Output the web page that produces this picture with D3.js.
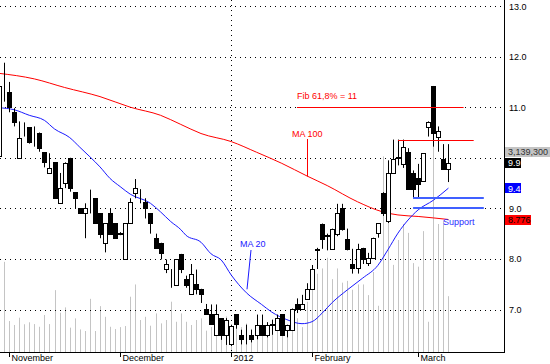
<!DOCTYPE html>
<html>
<head>
<meta charset="utf-8">
<script src="https://cdn.jsdelivr.net/npm/d3@7"></script>
<style>
html, body { margin: 0; padding: 0; background: #fff; }
svg text { font-family: "Liberation Sans", Arial, sans-serif; font-size: 9px; }
</style>
</head>
<body>
<div id="chart"></div>
<script>
// daily candles, first one is cut by the left edge
var opens  = [10.03,11.49,11.31,10.91,10.00,10.62,10.60,10.43,10.50,10.11, 9.70, 9.91, 9.10, 9.50,10.00, 9.32, 9.00, 8.90, 9.12, 9.20,
               8.90, 8.32, 8.90, 8.71, 8.50, 7.99, 8.71, 9.30, 9.20, 9.12, 8.90, 8.41, 8.32, 7.81, 7.60, 7.49, 8.10, 7.60, 7.31, 7.50,
               7.41, 7.02, 6.91, 6.50, 6.83, 6.50, 6.31, 6.91, 6.50, 6.60, 6.50, 6.50, 6.70, 6.50, 6.70, 6.60, 6.91, 6.60, 6.60, 7.11,
               7.02, 7.21, 7.41, 8.17, 8.70, 8.47, 8.20, 8.50, 9.00, 8.40, 7.90, 7.82, 8.22, 7.92, 8.02, 8.51, 9.30, 8.75, 9.70, 10.00,
               9.88,10.12, 9.70, 9.60, 9.55,10.60,11.42,10.42, 9.98, 9.78];
var highs  = [11.45,11.88,11.50,10.98,10.72,10.70,10.60,10.62,10.50,10.11,10.09, 9.91, 9.70, 9.91,10.00, 9.32, 9.00, 9.10, 9.37, 9.20,
               8.90, 8.71, 9.00, 8.71, 8.53, 8.71, 9.20, 9.58, 9.38, 9.20, 8.90, 8.50, 8.32, 7.99, 7.80, 7.99, 8.10, 7.67, 7.90, 7.79,
               7.41, 7.11, 7.10, 7.10, 6.83, 6.83, 6.70, 6.91, 6.60, 6.70, 6.60, 6.90, 6.90, 6.75, 6.80, 6.90, 6.91, 6.70, 7.02, 7.22,
               7.29, 7.52, 7.88, 8.22, 8.70, 8.50, 8.60, 9.09, 9.09, 8.60, 8.20, 8.30, 8.22, 8.12, 8.42, 8.71, 9.32, 9.95,10.36,10.36,
              10.36,10.19, 9.75, 9.88,10.09,10.72,11.42,10.62,10.27,10.27];
var lows   = [10.00,11.11,10.90,10.62,10.00,10.42,10.28,10.22,10.12, 9.81, 9.70, 9.20, 9.10, 9.40, 9.33, 9.00, 8.90, 8.41, 8.90, 8.71,
               8.41, 8.13, 8.50, 8.41, 8.47, 7.99, 8.71, 9.20, 9.10, 8.80, 8.50, 8.22, 7.99, 7.72, 7.43, 7.49, 7.72, 7.43, 7.31, 7.30,
               7.13, 6.91, 6.71, 6.50, 6.40, 6.30, 6.28, 6.62, 6.31, 6.31, 6.35, 6.41, 6.50, 6.45, 6.50, 6.60, 6.50, 6.45, 6.60, 6.93,
               7.00, 7.20, 7.41, 7.80, 8.20, 8.17, 8.20, 8.45, 8.56, 8.17, 7.71, 7.71, 7.90, 7.86, 8.02, 8.42, 8.85, 8.71, 9.70, 9.85,
               9.80, 9.39, 9.20, 9.20, 9.55,10.42,10.22,10.12, 9.78, 9.52];
var closes = [11.41,11.50,11.00,10.70,10.40,10.63,10.31,10.43,10.20, 9.91, 9.80, 9.20, 9.40, 9.90, 9.40, 9.20, 8.90, 9.00, 9.13, 8.71,
               8.50, 8.71, 8.50, 8.41, 8.51, 8.71, 9.12, 9.40, 9.21, 9.00, 8.71, 8.22, 8.12, 7.90, 7.61, 7.99, 7.80, 7.49, 7.70, 7.40,
               7.31, 6.91, 6.71, 6.91, 6.50, 6.80, 6.67, 6.71, 6.41, 6.59, 6.41, 6.70, 6.50, 6.70, 6.71, 6.83, 6.50, 6.70, 7.02, 7.02,
               7.11, 7.41, 7.80, 8.20, 8.40, 8.45, 8.60, 8.90, 8.60, 8.20, 7.82, 8.20, 8.00, 8.02, 8.42, 8.71, 8.91, 9.70, 9.98,10.02,
              10.21, 9.39, 9.39, 9.49,10.09,10.71,10.49,10.52, 9.78, 9.90];
// volume in millions of shares
var volumes = [1.50,5.07,1.74,1.52,1.93,1.56,1.67,1.57,1.42,2.08,1.57,3.48,2.21,2.51,1.37,1.89,1.27,1.18,2.99,1.18,
               2.58,1.98,1.42,1.29,1.40,1.46,3.11,3.80,1.80,1.98,1.48,2.17,1.61,1.80,2.83,1.70,2.17,1.70,1.52,1.80,
               1.89,1.20,1.40,1.60,1.40,2.00,1.50,1.70,1.40,1.60,1.30,1.40,1.60,1.10,1.70,1.40,2.00,1.00,1.50,1.90,
               1.40,2.83,4.30,4.40,4.70,5.30,4.10,4.70,3.90,4.00,3.50,3.80,3.80,3.20,4.50,2.60,11.0,7.60,4.90,6.30,
               7.20,6.70,5.00,4.80,6.80,1.70,12.2,7.20,7.40,3.14];

var monthDays = [2, 24, 46, 62, 83];
var monthLabels = ["November", "December", "2012", "February", "March"];
var yearDay = 46;
var priceTicks = [7, 8, 9, 10, 11, 12, 13];

var ma20Days = [0, 3, 6, 9, 11, 14, 16, 18, 20, 22, 24, 26, 30, 32, 34, 36, 37, 40, 42, 44, 46, 49, 52, 54, 57, 60, 62, 64, 66, 69, 72, 75, 77, 79, 81, 83, 86, 89];
var ma20Vals = [10.99, 10.95, 10.84, 10.74, 10.57, 10.40, 10.21, 10.02, 9.82, 9.59, 9.43, 9.28, 9.10, 8.93, 8.74, 8.58, 8.47, 8.33, 8.10, 7.98, 7.68, 7.33, 7.10, 6.95, 6.80, 6.72, 6.76, 6.93, 7.14, 7.39, 7.62, 7.87, 8.18, 8.51, 8.77, 8.97, 9.16, 9.40];
var ma100Days = [0, 7, 13, 20, 26, 32, 36, 40, 46, 51, 56, 61, 65, 71, 76, 79, 83, 89];
var ma100Vals = [11.67, 11.56, 11.39, 11.21, 11.00, 10.84, 10.66, 10.48, 10.32, 10.11, 9.89, 9.64, 9.45, 9.13, 8.93, 8.87, 8.84, 8.78];
var ma100Last = 8.776;

var lastVolumeText = "3,139,300";

var W = 550, H = 364, plotR = 504, plotB = 352;

var x = d3.scaleLinear().domain([0.2, 100]).range([0, plotR]);
var y = d3.scaleLinear().domain([6.16, 13.12]).range([plotB, 0]);
var yVol = d3.scaleLinear().domain([0, 19.8]).range([plotB, 0]);
var px = function(i) { return Math.round(x(i)) + 0.5; };

var svg = d3.select("#chart").append("svg")
    .attr("width", W).attr("height", H);

svg.append("clipPath").attr("id", "plot")
  .append("rect").attr("x", 0).attr("y", 0).attr("width", plotR).attr("height", plotB);

var plot = svg.append("g").attr("clip-path", "url(#plot)");

// volume
plot.selectAll(".vol")
    .data(volumes)
    .enter().append("line")
    .attr("x1", function(d, i) { return px(i); })
    .attr("x2", function(d, i) { return px(i); })
    .attr("y1", plotB)
    .attr("y2", function(d) { return yVol(d); })
    .style("stroke", "#c4c4c4")
    .style("stroke-width", 1);

// gridlines
plot.selectAll(".grid")
    .data(priceTicks)
    .enter().append("line")
    .attr("x1", 0).attr("x2", plotR)
    .attr("y1", function(d) { return Math.round(y(d)) + 0.5; })
    .attr("y2", function(d) { return Math.round(y(d)) + 0.5; })
    .style("stroke", "#000")
    .style("stroke-dasharray", "1,4");

plot.append("line")
    .attr("x1", px(yearDay)).attr("x2", px(yearDay))
    .attr("y1", 0).attr("y2", plotB)
    .style("stroke", "#000")
    .style("stroke-dasharray", "1,4");

// moving averages
var maLine = d3.line()
    .x(function(d) { return x(d[0]); })
    .y(function(d) { return y(d[1]); })
    .curve(d3.curveMonotoneX);

plot.append("path")
    .datum(d3.zip(ma100Days, ma100Vals))
    .attr("d", maLine)
    .style("fill", "none").style("stroke", "#ff0000").style("stroke-width", 1);

plot.append("path")
    .datum(d3.zip(ma20Days, ma20Vals))
    .attr("d", maLine)
    .style("fill", "none").style("stroke", "#1a1aff").style("stroke-width", 1);

// candles
var days = d3.range(closes.length);

plot.selectAll(".wick")
    .data(days)
    .enter().append("line")
    .attr("x1", function(i) { return px(i); })
    .attr("x2", function(i) { return px(i); })
    .attr("y1", function(i) { return y(highs[i]); })
    .attr("y2", function(i) { return y(lows[i]); })
    .style("stroke", "#000")
    .style("stroke-width", 1);

plot.selectAll(".body")
    .data(days)
    .enter().append("rect")
    .attr("x", function(i) { return Math.round(x(i)) - 1.5; })
    .attr("width", 4)
    .attr("y", function(i) { return Math.round(y(Math.max(opens[i], closes[i]))) + 0.5; })
    .attr("height", function(i) { return Math.max(0, Math.round(y(Math.min(opens[i], closes[i]))) - Math.round(y(Math.max(opens[i], closes[i])))); })
    .style("fill", function(i) { return closes[i] < opens[i] ? "#000" : "#fff"; })
    .style("stroke", "#000")
    .style("stroke-width", 1);

// annotations
var fibLevel = 11, fibFrom = 59, fibTo = 92;
var resLevel = 10.36, resFrom = 79, resTo = 94;
var supportLevels = [9.21, 9.0], supFrom = 82, supTo = 96;

svg.append("line")
    .attr("x1", x(fibFrom)).attr("x2", x(fibTo))
    .attr("y1", Math.round(y(fibLevel)) + 0.5).attr("y2", Math.round(y(fibLevel)) + 0.5)
    .style("stroke", "#ff0000");
svg.append("line")
    .attr("x1", x(resFrom)).attr("x2", x(resTo))
    .attr("y1", Math.round(y(resLevel)) + 0.5).attr("y2", Math.round(y(resLevel)) + 0.5)
    .style("stroke", "#ff0000");
svg.selectAll(".sup")
    .data(supportLevels)
    .enter().append("line")
    .attr("x1", x(supFrom)).attr("x2", x(supTo))
    .attr("y1", function(d) { return Math.round(y(d)); })
    .attr("y2", function(d) { return Math.round(y(d)); })
    .style("stroke", "#4060ff")
    .style("stroke-width", 2);

svg.append("text").attr("x", x(59)).attr("y", y(fibLevel) - 8)
    .style("fill", "#ff0000").text("Fib 61,8% = 11");

svg.append("text").attr("x", 292).attr("y", 137)
    .style("fill", "#ff0000").text("MA 100");
svg.append("line").attr("x1", 307.5).attr("y1", 139).attr("x2", 307.5).attr("y2", y(9.63))
    .style("stroke", "#ff0000");

svg.append("text").attr("x", 240).attr("y", 247)
    .style("fill", "#1a1aff").text("MA 20");
svg.append("line").attr("x1", 251).attr("y1", 250).attr("x2", 247).attr("y2", y(7.4))
    .style("stroke", "#1a1aff");

svg.append("text").attr("x", 443).attr("y", 225)
    .style("fill", "#2a2aff").text("Support");

// axes frame
svg.append("line").attr("x1", plotR + 0.5).attr("x2", plotR + 0.5).attr("y1", 0).attr("y2", plotB + 0.5)
    .style("stroke", "#000");
svg.append("line").attr("x1", 0).attr("x2", plotR + 1).attr("y1", plotB + 0.5).attr("y2", plotB + 0.5)
    .style("stroke", "#000");

// price labels (10.0 sits under the last value boxes)
svg.selectAll(".ylab")
    .data(priceTicks.filter(function(d) { return d !== 10; }))
    .enter().append("text")
    .attr("x", 509)
    .attr("y", function(d) { return y(d) + 3.5; })
    .style("fill", "#000")
    .text(function(d) { return d.toFixed(1); });

// month labels
var mt = svg.selectAll(".mt").data(monthDays).enter().append("g");
mt.append("line")
    .attr("x1", function(d) { return px(d); }).attr("x2", function(d) { return px(d); })
    .attr("y1", plotB).attr("y2", plotB + 5)
    .style("stroke", "#000");
mt.append("text")
    .attr("x", function(d) { return px(d) + 2; })
    .attr("y", plotB + 9)
    .style("fill", "#000")
    .text(function(d, i) { return monthLabels[i]; });

// last value boxes
var lastClose = closes[closes.length - 1];
var lastMa20 = ma20Vals[ma20Vals.length - 1];
var boxes = [
  {text: lastVolumeText, v: null, fill: "#c4c4c4", color: "#333", w: 46},
  {text: lastClose.toFixed(1), v: lastClose, fill: "#000", color: "#fff", w: 16},
  {text: lastMa20.toFixed(1), v: lastMa20, fill: "#0000ff", color: "#fff", w: 16},
  {text: ma100Last.toFixed(3), v: ma100Last, fill: "#ff0000", color: "#000", w: 26}
];
boxes.forEach(function(b) {
  var cy = b.v === null ? y(lastClose) - 11 : y(b.v);
  svg.append("rect").attr("x", 505).attr("y", Math.round(cy - 5)).attr("width", b.w).attr("height", 10)
      .style("fill", b.fill);
  svg.append("text").attr("x", 508).attr("y", cy + 3.5).style("fill", b.color).text(b.text);
});
</script>
</body>
</html>
